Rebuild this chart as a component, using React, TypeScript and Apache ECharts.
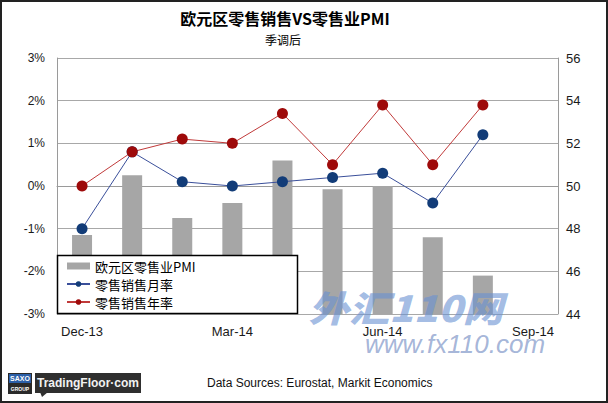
import React, { useEffect, useRef } from "react";
import * as echarts from "echarts";

const categories = ["Dec-13", "Jan-14", "Feb-14", "Mar-14", "Apr-14", "May-14", "Jun-14", "Jul-14", "Aug-14", "Sep-14"];
const pmiValues = [47.7, 50.5, 48.5, 49.2, 51.2, 49.85, 50.0, 47.6, 45.8, null];
const momValues = [-1.0, 0.8, 0.1, 0.0, 0.1, 0.2, 0.3, -0.4, 1.2, null];
const yoyValues = [0.0, 0.8, 1.1, 1.0, 1.7, 0.5, 1.9, 0.5, 1.9, null];
const seriesNames = ["欧元区零售业PMI", "零售销售月率", "零售销售年率"];
const titleText = "欧元区零售销售VS零售业PMI";
const subtitleText = "季调后";
const sourceText = "Data Sources: Eurostat, Markit Economics";

export default function App() {
  const ref = useRef<HTMLDivElement>(null);
  useEffect(() => {
    if (!ref.current) return;
    const chart = echarts.init(ref.current, null, { renderer: "svg" });
    const latin = "Liberation Sans, Arial, sans-serif";
    const cjk = "Noto Sans CJK SC, sans-serif";
    chart.setOption({
      animation: false,
      backgroundColor: "#ffffff",
      grid: { left: 57, right: 50, top: 58, bottom: 89, containLabel: false },
      xAxis: {
        type: "category",
        data: categories,
        boundaryGap: true,
        axisTick: { show: false },
        axisLine: { show: true, lineStyle: { color: "#9a9a9a", width: 1 } },
        axisLabel: {
          interval: (i: number) => i % 3 === 0,
          margin: 11,
          fontSize: 13,
          fontFamily: latin,
          color: "#1a1a1a",
        },
        splitLine: { show: false },
      },
      yAxis: [
        {
          type: "value",
          min: -3,
          max: 3,
          interval: 1,
          axisLine: { show: true, lineStyle: { color: "#9a9a9a" } },
          axisTick: { show: false },
          axisLabel: { formatter: "{value}%", margin: 12, fontSize: 12, fontFamily: latin, color: "#1a1a1a" },
          splitLine: { show: true, lineStyle: { color: "#a8a8a8", width: 1 } },
        },
        {
          type: "value",
          min: 44,
          max: 56,
          interval: 2,
          position: "right",
          axisLine: { show: true, lineStyle: { color: "#9a9a9a" } },
          axisTick: { show: false },
          axisLabel: { margin: 8, fontSize: 13, fontFamily: latin, color: "#1a1a1a" },
          splitLine: { show: false },
        },
      ],
      legend: {
        orient: "vertical",
        left: 66,
        top: 259,
        padding: 0,
        itemGap: 4,
        itemWidth: 23,
        itemHeight: 7,
        z: 5,
        textStyle: { fontSize: 13, fontFamily: cjk, color: "#000", lineHeight: 14 },
        data: [
          { name: seriesNames[0], icon: "rect" },
          { name: seriesNames[1] },
          { name: seriesNames[2] },
        ],
      },
      graphic: {
        elements: [
          {
            type: "rect",
            z: 4,
            shape: { x: 57.5, y: 255.5, width: 240, height: 58 },
            style: { fill: "#ffffff", stroke: "#000000", lineWidth: 1.5 },
          },
          {
            type: "text",
            x: 285,
            y: 18,
            style: {
              text: titleText,
              font: "bold 16px " + cjk,
              fill: "#000",
              textAlign: "center",
              textVerticalAlign: "middle",
            },
          },
          {
            type: "text",
            x: 283,
            y: 39,
            style: {
              text: subtitleText,
              font: "12px " + cjk,
              fill: "#000",
              textAlign: "center",
              textVerticalAlign: "middle",
            },
          },
          {
            type: "text",
            x: 207,
            y: 383,
            style: {
              text: sourceText,
              font: "12px " + latin,
              fill: "#111",
              textAlign: "left",
              textVerticalAlign: "middle",
            },
          },
          // SAXO logo
          {
            type: "rect",
            shape: { x: 8, y: 373, width: 24, height: 21 },
            style: { fill: "#2a2a2a" },
          },
          {
            type: "rect",
            shape: { x: 9, y: 374, width: 22, height: 9 },
            style: { fill: "#2b5fa8" },
          },
          {
            type: "text",
            x: 20,
            y: 378.5,
            style: { text: "SAXO", font: "bold 7px " + latin, fill: "#fff", textAlign: "center", textVerticalAlign: "middle" },
          },
          {
            type: "text",
            x: 20,
            y: 388.5,
            style: { text: "GROUP", font: "bold 5px " + latin, fill: "#fff", textAlign: "center", textVerticalAlign: "middle" },
          },
          // TradingFloor logo
          {
            type: "rect",
            shape: { x: 35, y: 373, width: 106, height: 20 },
            style: { fill: "#2f2f2f" },
          },
          {
            type: "polygon",
            shape: { points: [[40, 392], [48, 392], [42, 397]] },
            style: { fill: "#2f2f2f" },
          },
          {
            type: "text",
            x: 88,
            y: 383,
            style: { text: "TradingFloor·com", font: "bold 12px " + latin, fill: "#f2f2f2", textAlign: "center", textVerticalAlign: "middle" },
          },
          // watermark
          {
            type: "text",
            z: 10,
            x: 461,
            y: 306,
            scaleX: 1.12,
            originX: 461,
            originY: 306,
            style: {
              text: "外汇110网",
              font: "italic 900 36px " + cjk,
              fill: "rgba(105,145,210,0.62)",
              textAlign: "center",
              textVerticalAlign: "middle",
            },
          },
          {
            type: "text",
            z: 10,
            x: 455,
            y: 344,
            style: {
              text: "www.fx110.com",
              font: "italic 26px " + latin,
              fill: "rgba(115,140,195,0.65)",
              textAlign: "center",
              textVerticalAlign: "middle",
            },
          },
          // outer frame
          {
            type: "rect",
            z: 20,
            shape: { x: 1, y: 1, width: 606, height: 401 },
            style: { fill: "none", stroke: "#222", lineWidth: 2 },
          },
        ],
      },
      series: [
        {
          name: seriesNames[0],
          type: "bar",
          yAxisIndex: 1,
          data: pmiValues,
          barWidth: 20,
          itemStyle: { color: "#a6a6a6" },
          z: 2,
        },
        {
          name: seriesNames[1],
          type: "line",
          yAxisIndex: 0,
          data: momValues,
          symbol: "circle",
          symbolSize: 11,
          lineStyle: { color: "#3a4f9a", width: 1 },
          itemStyle: { color: "#123c78" },
          z: 3,
        },
        {
          name: seriesNames[2],
          type: "line",
          yAxisIndex: 0,
          data: yoyValues,
          symbol: "circle",
          symbolSize: 11,
          lineStyle: { color: "#c03a3a", width: 1 },
          itemStyle: { color: "#9e0a0a" },
          z: 3,
        },
      ],
    });
    return () => chart.dispose();
  }, []);
  return (
    <div
      ref={ref}
      style={{ position: "fixed", left: 0, top: 0, width: 608, height: 403 }}
    />
  );
}
